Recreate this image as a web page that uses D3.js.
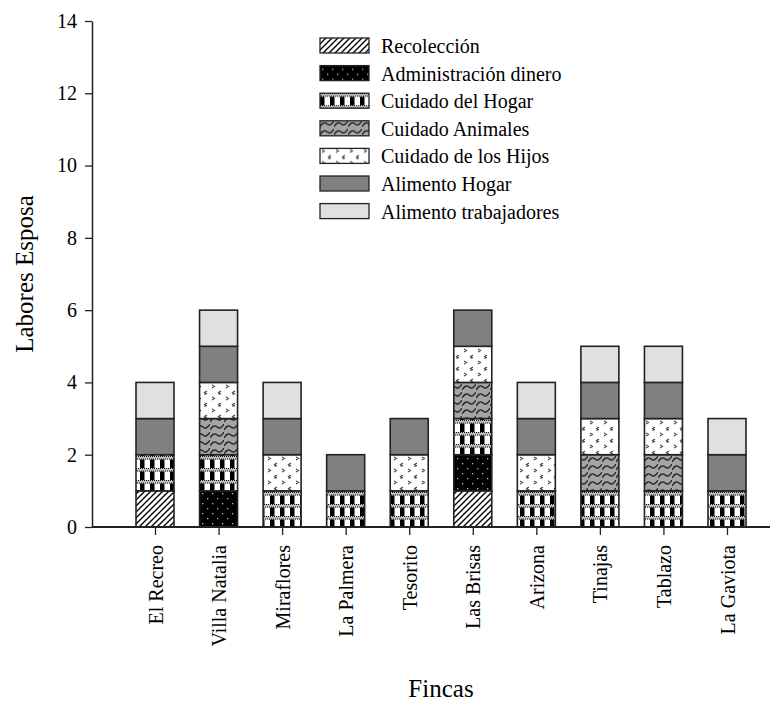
<!DOCTYPE html>
<html lang="es">
<head>
<meta charset="UTF-8">
<script src="https://cdn.jsdelivr.net/npm/d3@7"></script>
<style>
  body { margin: 0; background: #fff; }
  text { font-family: "Liberation Serif", "Times New Roman", serif; fill: #000; }
</style>
</head>
<body>
<svg id="chart" width="778" height="702"></svg>
<script>
// datos
var fincas = ["El Recreo", "Villa Natalia", "Miraflores", "La Palmera", "Tesorito",
              "Las Brisas", "Arizona", "Tinajas", "Tablazo", "La Gaviota"];
var labores = ["Recolección", "Administración dinero", "Cuidado del Hogar", "Cuidado Animales",
               "Cuidado de los Hijos", "Alimento Hogar", "Alimento trabajadores"];
var recoleccion    = [1, 0, 0, 0, 0, 1, 0, 0, 0, 0];
var administracion = [0, 1, 0, 0, 0, 1, 0, 0, 0, 0];
var cuidadoHogar   = [1, 1, 1, 1, 1, 1, 1, 1, 1, 1];
var cuidadoAnim    = [0, 1, 0, 0, 0, 1, 0, 1, 1, 0];
var cuidadoHijos   = [0, 1, 1, 0, 1, 1, 1, 1, 1, 0];
var alimHogar      = [1, 1, 1, 1, 1, 1, 1, 1, 1, 1];
var alimTrab       = [1, 1, 1, 0, 0, 0, 1, 1, 1, 1];
var yTicks = [0, 2, 4, 6, 8, 10, 12, 14];

var series = [recoleccion, administracion, cuidadoHogar, cuidadoAnim, cuidadoHijos, alimHogar, alimTrab];
var rows = fincas.map(function (f, i) {
    var r = { finca: f };
    labores.forEach(function (l, k) { r[l] = series[k][i]; });
    return r;
});

var svg = d3.select("#chart");
var axisX0 = 92, axisX1 = 770;
var y = d3.scaleLinear().domain([0, 14]).range([527, 21]);
var x = d3.scalePoint().domain(fincas).range([155, 727]);
var barW = 38;

// patrones
var defs = svg.append("defs");

// Recolección: rayado diagonal
var p1 = defs.append("pattern").attr("id", "pat0").attr("patternUnits", "userSpaceOnUse")
    .attr("width", 6).attr("height", 6);
p1.append("rect").attr("width", 6).attr("height", 6).attr("fill", "#fff");
p1.append("path").attr("d", "M-1,7 L7,-1 M-4,4 L4,-4 M2,10 L10,2")
    .attr("stroke", "#000").attr("stroke-width", 1.4);

// Administración: negro con puntos
var p2 = defs.append("pattern").attr("id", "pat1").attr("patternUnits", "userSpaceOnUse")
    .attr("width", 10).attr("height", 10);
p2.append("rect").attr("width", 10).attr("height", 10).attr("fill", "#000");
p2.append("rect").attr("x", 2).attr("y", 3).attr("width", 1.3).attr("height", 1.3).attr("fill", "#bbb");
p2.append("rect").attr("x", 7).attr("y", 8).attr("width", 1.3).attr("height", 1.3).attr("fill", "#bbb");

// Cuidado del Hogar: cuadros con bandas punteadas
var p3 = defs.append("pattern").attr("id", "pat2").attr("patternUnits", "userSpaceOnUse")
    .attr("width", 10).attr("height", 12);
p3.append("rect").attr("width", 10).attr("height", 12).attr("fill", "#fff");
p3.append("rect").attr("x", 0).attr("width", 4.5).attr("height", 12).attr("fill", "#000");
p3.append("rect").attr("y", 0).attr("width", 10).attr("height", 3.5).attr("fill", "#c4c4c4");
[0, 2, 4, 6, 8].forEach(function (d) {
    p3.append("rect").attr("x", d).attr("y", 0).attr("width", 1).attr("height", 1).attr("fill", "#111");
    p3.append("rect").attr("x", d + 1).attr("y", 2.5).attr("width", 1).attr("height", 1).attr("fill", "#111");
});

// Cuidado Animales: ondas sobre gris
var p4 = defs.append("pattern").attr("id", "pat3").attr("patternUnits", "userSpaceOnUse")
    .attr("width", 14).attr("height", 8);
p4.append("rect").attr("width", 14).attr("height", 8).attr("fill", "#a4a4a4");
p4.append("path").attr("d", "M0,6 Q3.5,0 7,3 Q10.5,6 14,0 M0,6 L0,6")
    .attr("fill", "none").attr("stroke", "#2a2a2a").attr("stroke-width", 1.4);

// Cuidado de los Hijos: marcas pequeñas
var p5 = defs.append("pattern").attr("id", "pat4").attr("patternUnits", "userSpaceOnUse")
    .attr("width", 14).attr("height", 12);
p5.append("rect").attr("width", 14).attr("height", 12).attr("fill", "#fff");
p5.append("path").attr("d", "M2,1 L4.5,2.5 L2,4 M11,7 L8.5,8.5 L11,10 M9,8.5 L9,11")
    .attr("fill", "none").attr("stroke", "#444").attr("stroke-width", 1.1);

var fills = ["url(#pat0)", "url(#pat1)", "url(#pat2)", "url(#pat3)", "url(#pat4)", "#808080", "#e0e0e0"];

// barras apiladas
var stacked = d3.stack().keys(labores)(rows);

svg.append("g").selectAll("g")
    .data(stacked)
    .enter().append("g")
    .attr("fill", function (d, i) { return fills[i]; })
    .selectAll("rect")
    .data(function (d) { return d.filter(function (s) { return s[1] > s[0]; }); })
    .enter().append("rect")
    .attr("x", function (d) { return x(d.data.finca) - barW / 2; })
    .attr("y", function (d) { return y(d[1]); })
    .attr("width", barW)
    .attr("height", function (d) { return y(d[0]) - y(d[1]); })
    .attr("stroke", "#222")
    .attr("stroke-width", 1.6);

// eje y
var gy = svg.append("g").attr("transform", "translate(" + axisX0 + ",0)")
    .call(d3.axisLeft(y).tickValues(yTicks).tickSize(7).tickSizeOuter(0).tickPadding(8));
gy.select(".domain").attr("stroke", "#222").attr("stroke-width", 1.5);
gy.selectAll(".tick line").attr("stroke", "#222").attr("stroke-width", 1.3);
gy.selectAll("text").style("font-size", "20px").style("font-family", "Liberation Serif");

// eje x
var gx = svg.append("g").attr("transform", "translate(0," + y(0) + ")")
    .call(d3.axisBottom(x).tickSize(8).tickSizeOuter(0));
gx.select(".domain").attr("d", "M" + axisX0 + ",0H" + axisX1)
    .attr("stroke", "#222").attr("stroke-width", 1.8);
gx.selectAll(".tick line").attr("stroke", "#222").attr("stroke-width", 1.3);
gx.selectAll("text")
    .style("font-size", "20px").style("font-family", "Liberation Serif")
    .attr("text-anchor", "end")
    .attr("transform", "rotate(-90)")
    .attr("x", -18).attr("y", 0).attr("dy", "0.35em");

// titulos
svg.append("text")
    .attr("transform", "translate(33,274) rotate(-90)")
    .attr("text-anchor", "middle")
    .style("font-size", "25px")
    .text("Labores Esposa");
svg.append("text")
    .attr("x", 441).attr("y", 697)
    .attr("text-anchor", "middle")
    .style("font-size", "25px")
    .text("Fincas");

// leyenda
var leg = svg.append("g").selectAll("g")
    .data(labores)
    .enter().append("g")
    .attr("transform", function (d, i) { return "translate(320," + (38 + i * 27.6) + ")"; });
leg.append("rect")
    .attr("width", 49).attr("height", 15)
    .attr("fill", function (d, i) { return fills[i]; })
    .attr("stroke", "#222").attr("stroke-width", 1.3);
leg.append("text")
    .attr("x", 61).attr("y", 15)
    .style("font-size", "20px")
    .text(function (d) { return d; });
</script>
</body>
</html>
